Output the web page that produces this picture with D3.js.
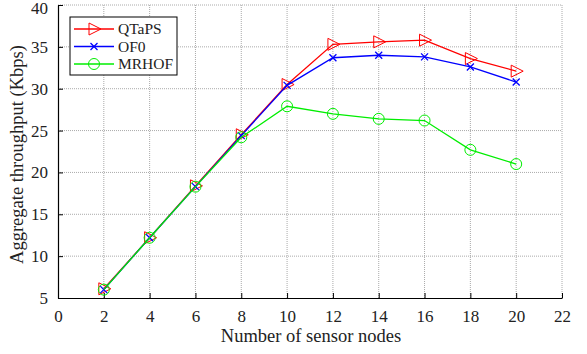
<!DOCTYPE html>
<html><head><meta charset="utf-8">
<script src="https://cdn.jsdelivr.net/npm/d3@7"></script>
<style>body{margin:0;background:#fff}svg{display:block}text{font-family:"Liberation Serif","Times New Roman",serif;fill:#222}</style>
</head><body>
<svg id="c" width="587" height="354"></svg>
<script>
const nodes = [2,4,6,8,10,12,14,16,18,20];
const qtaps = [6.1,12.2,18.4,24.5,30.5,35.3,35.6,35.8,33.6,32.1];
const of0   = [6.0,12.2,18.3,24.4,30.4,33.7,34.0,33.8,32.6,30.8];
const mrhof = [6.0,12.2,18.3,24.2,27.9,27.0,26.4,26.2,22.7,21.0];
const xTicks = [0,2,4,6,8,10,12,14,16,18,20,22];
const yTicks = [5,10,15,20,25,30,35,40];
const seriesNames = ["QTaPS","OF0","MRHOF"];
const colors = ["#ff0000","#0000ff","#00ee00"];

const svg = d3.select("#c");
const L=58,R=562,T=5,B=298;
const x = d3.scaleLinear().domain([0,22]).range([L,R]);
const y = d3.scaleLinear().domain([5,40]).range([B,T]);

const g = svg.append("g");
g.selectAll(".vx").data(xTicks.slice(1)).join("line")
 .attr("x1",d=>x(d)).attr("x2",d=>x(d)).attr("y1",T).attr("y2",B)
 .attr("stroke","#aaa").attr("stroke-dasharray","1,1").attr("stroke-width",1);
g.selectAll(".hy").data(yTicks.slice(1)).join("line")
 .attr("y1",d=>y(d)).attr("y2",d=>y(d)).attr("x1",L).attr("x2",R)
 .attr("stroke","#aaa").attr("stroke-dasharray","1,1").attr("stroke-width",1);

const xa = svg.append("g").attr("transform",`translate(0,${B})`)
 .call(d3.axisBottom(x).tickValues(xTicks).tickSizeInner(-5).tickSizeOuter(0).tickPadding(12));
const ya = svg.append("g").attr("transform",`translate(${L},0)`)
 .call(d3.axisLeft(y).tickValues(yTicks).tickSizeInner(-5).tickSizeOuter(0).tickPadding(10));
[xa,ya].forEach(a=>{a.attr("font-family",null);
 a.select(".domain").attr("stroke","#000").attr("stroke-width",1.2);
 a.selectAll(".tick line").attr("stroke","#000");
 a.selectAll("text").style("font-size","17px").attr("fill","#333").style("font-family",'"Liberation Serif",serif');});
ya.selectAll("text").filter(d=>d===40).attr("dy","0.5em");

svg.append("text").attr("x",(L+R)/2+1).attr("y",342).attr("text-anchor","middle").style("font-size","18.5px").text("Number of sensor nodes");
svg.append("text").attr("transform",`translate(23,${(T+B)/2+3}) rotate(-90)`).attr("text-anchor","middle").style("font-size","18.5px").text("Aggregate throughput (Kbps)");

const data=[qtaps,of0,mrhof];
const line=d3.line().x((d,i)=>x(nodes[i])).y(d=>y(d));
function marker(sel,k,cx,cy){
  if(k===0){ sel.append("path").attr("d",`M${cx-5},${cy-6}L${cx+7},${cy}L${cx-5},${cy+6}Z`).attr("fill","none").attr("stroke",colors[0]).attr("stroke-width",1); }
  else if(k===1){ sel.append("path").attr("d",`M${cx-3.5},${cy-3.5}L${cx+3.5},${cy+3.5}M${cx-3.5},${cy+3.5}L${cx+3.5},${cy-3.5}`).attr("stroke",colors[1]).attr("stroke-width",1.3); }
  else { sel.append("circle").attr("cx",cx).attr("cy",cy).attr("r",5.5).attr("fill","none").attr("stroke",colors[2]).attr("stroke-width",1); }
}
[0,1,2].forEach(k=>{
  const s=svg.append("g");
  s.append("path").datum(data[k]).attr("d",line).attr("fill","none").attr("stroke",colors[k]).attr("stroke-width",1.3);
  data[k].forEach((v,i)=>marker(s,k,x(nodes[i]),y(v)));
});
const lg=svg.append("g");
lg.append("rect").attr("x",70).attr("y",17).attr("width",107).attr("height",58).attr("fill","#fff").attr("stroke","#000").attr("stroke-width",1);
seriesNames.forEach((n,k)=>{
  const yy=29+k*17.5;
  lg.append("line").attr("x1",74).attr("x2",114).attr("y1",yy).attr("y2",yy).attr("stroke",colors[k]).attr("stroke-width",1.3);
  marker(lg,k,94,yy);
  lg.append("text").attr("x",118).attr("y",yy+5).style("font-size","15.5px").attr("fill","#222").text(n);
});
</script>
</body></html>
